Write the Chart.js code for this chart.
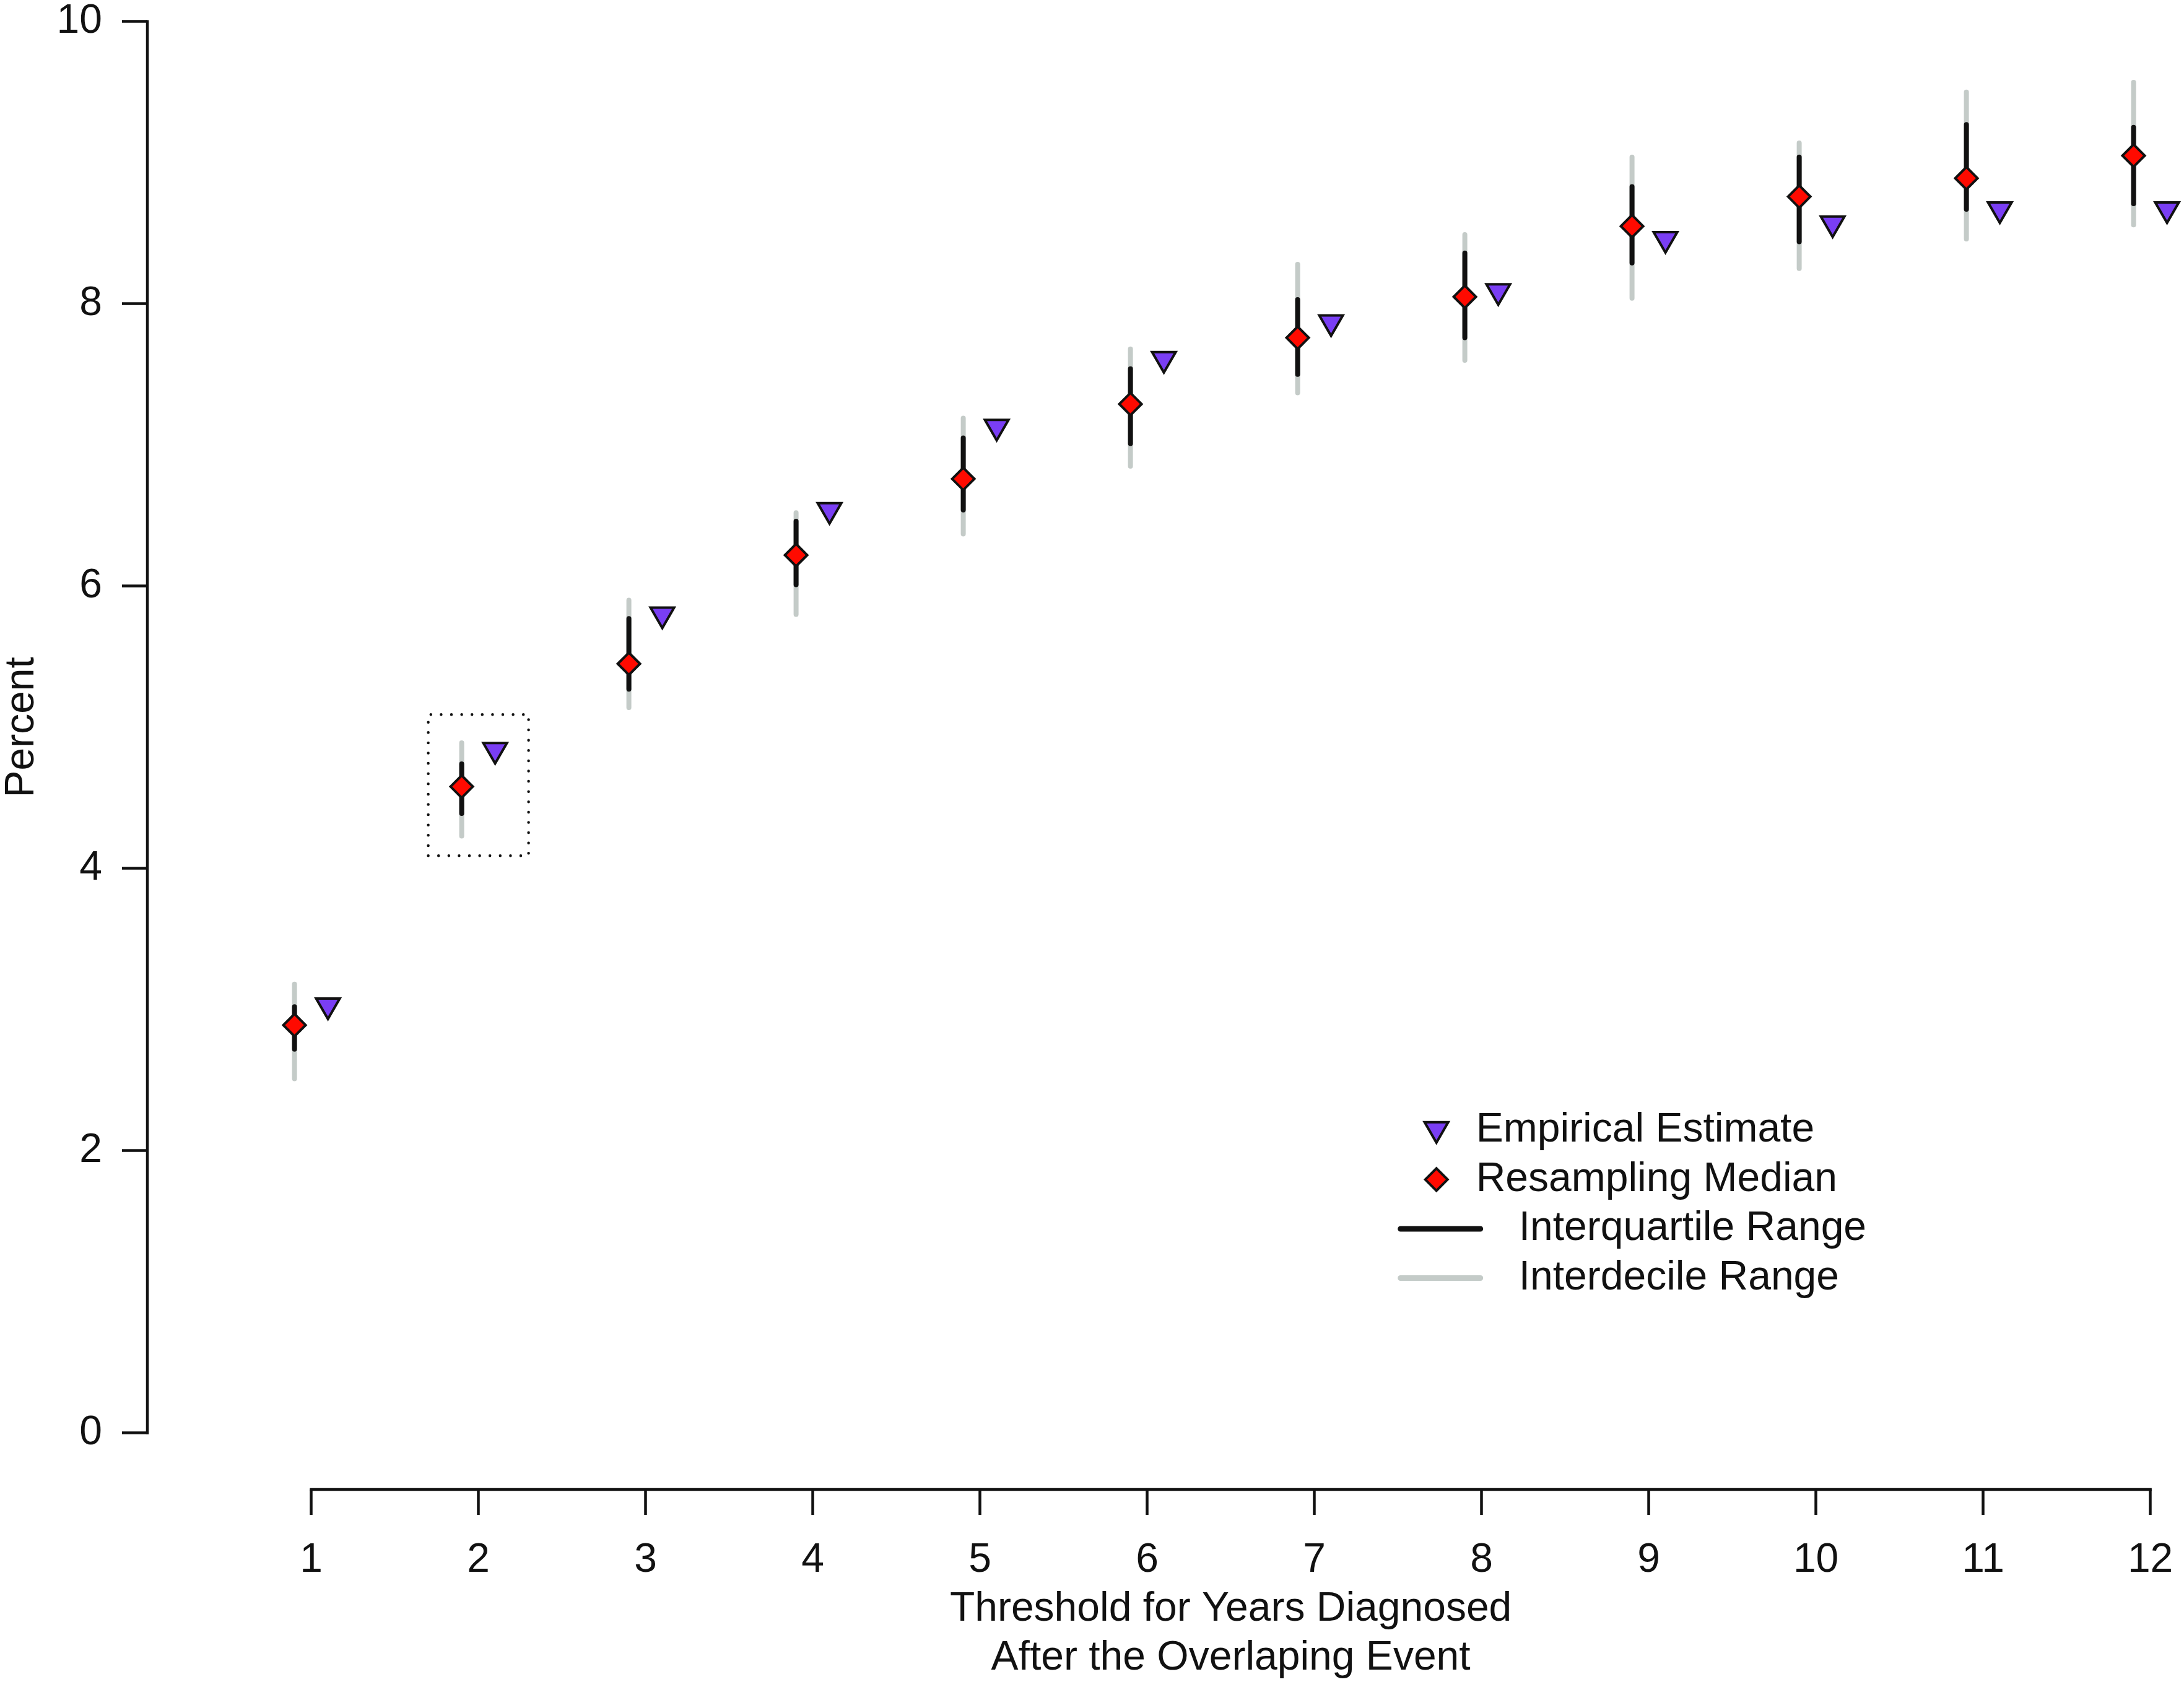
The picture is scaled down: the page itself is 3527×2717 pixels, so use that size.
<!DOCTYPE html>
<html>
<head>
<meta charset="utf-8">
<title>Resampling Median vs Empirical Estimate</title>
<script src="https://cdn.jsdelivr.net/npm/chart.js"></script>
<style>
  html, body { margin: 0; padding: 0; background: #fff; }
  #wrap { width: 3527px; height: 2717px; position: relative; }
</style>
</head>
<body>
<div id="wrap"><canvas id="chart"></canvas></div>
<script>
// Threshold for years diagnosed (x) and y ticks
const years = [1, 2, 3, 4, 5, 6, 7, 8, 9, 10, 11, 12];
const yTicks = [0, 2, 4, 6, 8, 10];

// Percent values
const empirical = [3.03, 4.84, 5.80, 6.54, 7.13, 7.61, 7.87, 8.09, 8.46, 8.57, 8.67, 8.67];
const median    = [2.89, 4.58, 5.45, 6.22, 6.76, 7.29, 7.76, 8.05, 8.55, 8.76, 8.89, 9.05];
const iqrLow    = [2.72, 4.39, 5.27, 6.01, 6.54, 7.01, 7.50, 7.76, 8.29, 8.44, 8.67, 8.71];
const iqrHigh   = [3.02, 4.74, 5.77, 6.46, 7.05, 7.54, 8.03, 8.36, 8.83, 9.04, 9.27, 9.25];
const idrLow    = [2.51, 4.23, 5.14, 5.80, 6.37, 6.85, 7.37, 7.60, 8.04, 8.25, 8.46, 8.56];
const idrHigh   = [3.18, 4.89, 5.90, 6.52, 7.19, 7.68, 8.28, 8.49, 9.04, 9.14, 9.50, 9.57];

const legendLabels = ['Empirical Estimate', 'Resampling Median', 'Interquartile Range', 'Interdecile Range'];
const xTitle = ['Threshold for Years Diagnosed', 'After the Overlaping Event'];
const yTitle = 'Percent';

// dotted box around year 2
const boxX = [1.7, 2.3];
const boxY = [4.09, 5.09];

const FONT = "'Liberation Sans', Arial, Helvetica, sans-serif";
const INK = '#111111';
const PURPLE = '#7a3ef4';
const RED = '#ff0a00';
const GREY = '#c4cbc8';
const SHIFT = 0.1;

Chart.defaults.font.family = FONT;
Chart.defaults.font.size = 66;
Chart.defaults.color = INK;

// vertical range segments, broken with null gaps
function rangeSegments(lo, hi) {
    return years.flatMap((yr, i) => [
        { x: yr - SHIFT, y: lo[i] },
        { x: yr - SHIFT, y: hi[i] },
        { x: yr - SHIFT, y: null }
    ]);
}

const triangleStyle = { pointStyle: 'triangle', rotation: 180, radius: 22, borderWidth: 4 };
const diamondStyle = { pointStyle: 'rectRot', rotation: 0, radius: 18, borderWidth: 4 };

const decor = {
    id: 'decor',
    afterDatasetsDraw(chart) {
        const { ctx } = chart;
        const xs = chart.scales.x, ys = chart.scales.y;
        ctx.save();

        // axis lines only across the tick range
        ctx.strokeStyle = INK;
        ctx.lineWidth = 4.5;
        ctx.lineCap = 'square';
        ctx.beginPath();
        ctx.moveTo(xs.left, ys.getPixelForValue(yTicks[0]));
        ctx.lineTo(xs.left, ys.getPixelForValue(yTicks[yTicks.length - 1]));
        ctx.moveTo(xs.getPixelForValue(years[0]), ys.bottom);
        ctx.lineTo(xs.getPixelForValue(years[years.length - 1]), ys.bottom);
        ctx.stroke();

        // axis titles
        ctx.fillStyle = INK;
        ctx.font = `66px ${FONT}`;
        ctx.textAlign = 'center';
        ctx.textBaseline = 'middle';
        const cx = xs.getPixelForValue((years[0] + years[years.length - 1]) / 2);
        ctx.fillText(xTitle[0], cx, ys.bottom + 194);
        ctx.fillText(xTitle[1], cx, ys.bottom + 273);

        ctx.save();
        ctx.translate(36, ys.getPixelForValue(5));
        ctx.rotate(-Math.PI / 2);
        ctx.fillText(yTitle, 0, 0);
        ctx.restore();

        // legend
        const lx = xs.getPixelForValue(7.73);
        const ly = ys.getPixelForValue(2.145);
        const step = 79.6;
        ctx.lineJoin = 'miter';
        ctx.strokeStyle = INK;
        ctx.lineWidth = 4;
        ctx.fillStyle = PURPLE;
        Chart.helpers.drawPoint(ctx, triangleStyle, lx, ly - 2);
        ctx.fillStyle = RED;
        Chart.helpers.drawPoint(ctx, diamondStyle, lx, ly + step);

        ctx.lineCap = 'round';
        ctx.lineWidth = 9;
        ctx.strokeStyle = INK;
        ctx.beginPath();
        ctx.moveTo(lx - 58, ly + 2 * step);
        ctx.lineTo(lx + 71, ly + 2 * step);
        ctx.stroke();
        ctx.strokeStyle = GREY;
        ctx.beginPath();
        ctx.moveTo(lx - 58, ly + 3 * step);
        ctx.lineTo(lx + 71, ly + 3 * step);
        ctx.stroke();

        ctx.fillStyle = INK;
        ctx.textAlign = 'left';
        ctx.fillText(legendLabels[0], lx + 64, ly);
        ctx.fillText(legendLabels[1], lx + 64, ly + step);
        ctx.fillText(legendLabels[2], lx + 133, ly + 2 * step);
        ctx.fillText(legendLabels[3], lx + 133, ly + 3 * step);

        ctx.restore();
    }
};

const ctx = document.getElementById('chart').getContext('2d');
const chartInstance = new Chart(ctx, {
    type: 'scatter',
    data: {
        datasets: [
            {
                label: legendLabels[0],
                data: years.map((yr, i) => ({ x: yr + SHIFT, y: empirical[i] })),
                pointStyle: 'triangle', pointRotation: 180, pointRadius: triangleStyle.radius,
                pointBackgroundColor: PURPLE, pointBorderColor: INK, pointBorderWidth: 4,
                showLine: false, clip: false
            },
            {
                label: legendLabels[1],
                data: years.map((yr, i) => ({ x: yr - SHIFT, y: median[i] })),
                pointStyle: 'rectRot', pointRadius: diamondStyle.radius,
                pointBackgroundColor: RED, pointBorderColor: INK, pointBorderWidth: 4,
                showLine: false, clip: false
            },
            {
                label: legendLabels[2],
                data: rangeSegments(iqrLow, iqrHigh),
                showLine: true, spanGaps: false, pointRadius: 0,
                borderColor: INK, borderWidth: 8, borderCapStyle: 'round', clip: false
            },
            {
                label: legendLabels[3],
                data: rangeSegments(idrLow, idrHigh),
                showLine: true, spanGaps: false, pointRadius: 0,
                borderColor: GREY, borderWidth: 8, borderCapStyle: 'round', clip: false
            },
            {
                label: 'box',
                data: [
                    { x: boxX[0], y: boxY[0] }, { x: boxX[1], y: boxY[0] },
                    { x: boxX[1], y: boxY[1] }, { x: boxX[0], y: boxY[1] },
                    { x: boxX[0], y: boxY[0] }
                ],
                showLine: true, pointRadius: 0,
                borderColor: INK, borderWidth: 4.5, borderDash: [0, 16.6],
                borderCapStyle: 'round', borderJoinStyle: 'round', clip: false
            }
        ]
    },
    options: {
        responsive: true,
        maintainAspectRatio: false,
        animation: false,
        layout: { padding: 0, autoPadding: false },
        events: [],
        scales: {
            x: {
                type: 'linear', bounds: 'data', min: 0.02, max: 12.2015,
                afterBuildTicks: s => { s.ticks = years.map(v => ({ value: v })); },
                afterFit: s => { s.height = 311; s.paddingLeft = 0; s.paddingRight = 0; },
                grid: { drawOnChartArea: false, drawTicks: true, tickLength: 41, tickWidth: 4.5, tickColor: INK },
                border: { display: false },
                ticks: { autoSkip: false, maxRotation: 0, minRotation: 0, padding: 34, color: INK }
            },
            y: {
                type: 'linear', bounds: 'data', min: -0.4, max: 10.1528,
                afterBuildTicks: s => { s.ticks = yTicks.map(v => ({ value: v })); },
                afterFit: s => { s.width = 238; s.paddingTop = 0; s.paddingBottom = 0; },
                grid: { drawOnChartArea: false, drawTicks: true, tickLength: 41, tickWidth: 4.5, tickColor: INK },
                border: { display: false },
                ticks: { autoSkip: false, padding: 32, color: INK }
            }
        },
        plugins: {
            legend: { display: false },
            tooltip: { enabled: false },
            title: { display: false }
        }
    },
    plugins: [decor]
});
</script>
</body>
</html>
